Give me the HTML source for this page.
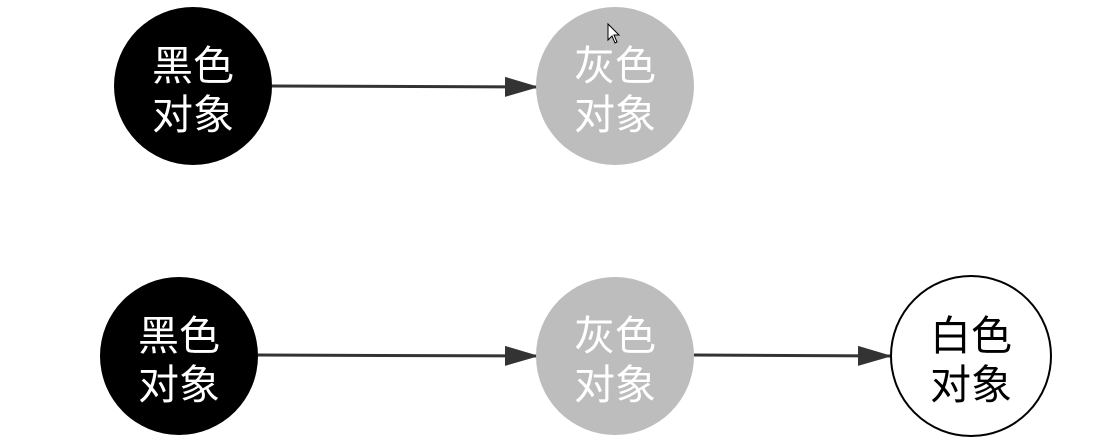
<!DOCTYPE html>
<html><head><meta charset="utf-8"><style>
html,body{margin:0;padding:0;background:#fff;width:1102px;height:448px;overflow:hidden}
svg text{font-family:"Liberation Sans","Noto Sans CJK SC",sans-serif;font-size:41px;text-anchor:middle}
</style></head><body>
<svg width="1102" height="448" viewBox="0 0 1102 448">
<defs><marker id="a" markerWidth="34" markerHeight="22" refX="32" refY="11" orient="auto" markerUnits="userSpaceOnUse"><path d="M0,1 L34,11 L0,21 Z" fill="#333"/></marker></defs>
<line x1="272" y1="86" x2="537" y2="87" stroke="#333" stroke-width="3" marker-end="url(#a)"/>
<line x1="258" y1="355" x2="537" y2="356" stroke="#333" stroke-width="3" marker-end="url(#a)"/>
<line x1="694" y1="355" x2="890" y2="356" stroke="#333" stroke-width="3" marker-end="url(#a)"/>
<circle cx="193" cy="86" r="79" fill="#000"/>
<circle cx="615" cy="86" r="79" fill="#bdbdbd"/>
<circle cx="179" cy="356" r="79" fill="#000"/>
<circle cx="615" cy="356" r="79" fill="#bdbdbd"/>
<circle cx="971" cy="356" r="80" fill="#fff" stroke="#000" stroke-width="2"/>
<g fill="#fff">
<text x="193" y="80">黑色</text><text x="193" y="129">对象</text>
<text x="615" y="80">灰色</text><text x="615" y="129">对象</text>
<text x="179" y="350">黑色</text><text x="179" y="399">对象</text>
<text x="615" y="350">灰色</text><text x="615" y="399">对象</text>
</g>
<text x="971" y="350" fill="#000">白色</text><text x="971" y="399" fill="#000">对象</text>
<path d="M608,24 L608,40 L612,36 L615,43 L617,42 L614,35 L619,35 Z" fill="#fff" stroke="#000" stroke-width="1"/>
</svg>
</body></html>
